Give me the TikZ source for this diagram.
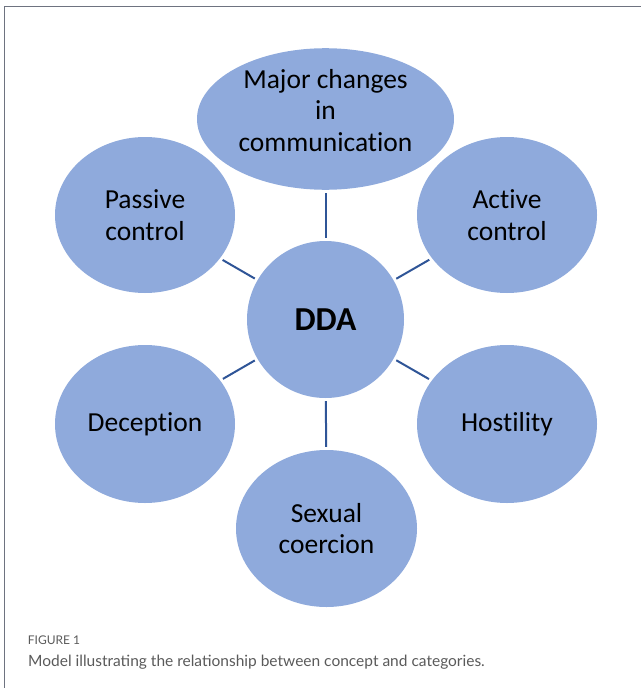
\documentclass[tikz,border=0pt]{standalone}
\usepackage{fontspec}
\setmainfont{Carlito}[Ligatures=NoCommon]
\newfontfamily\capfont{Lato}
\usetikzlibrary{shapes.geometric}
\definecolor{bubble}{HTML}{8FAADC}
\definecolor{link}{HTML}{2F5597}
\definecolor{framegray}{HTML}{6E7380}
\definecolor{captext}{HTML}{5A5A5A}
\tikzset{
  bubble/.style={ellipse, fill=bubble, inner sep=0pt, align=center,
    font=\fontsize{27.5}{31.5}\selectfont, text=black},
  link/.style={draw=link, line width=2pt, shorten >=3pt, shorten <=3pt},
}
\begin{document}
\begin{tikzpicture}[x=1pt,y=-1pt]
\useasboundingbox (0,0) rectangle (641,688);
\draw[framegray, line width=1.4pt] (4.5,688) -- (4.5,6.3) -- (641,6.3);

\node[bubble, minimum width=157pt, minimum height=157pt,
      font=\fontsize{33.5}{38}\selectfont\bfseries] (dda) at (325.5,319.5) {DDA};
\node[bubble, minimum width=257pt, minimum height=138pt, text depth=18pt] (major) at (325.5,119)
  {Major changes\\in\\communication};
\node[bubble, minimum width=180pt, minimum height=156pt] (passive) at (145,215) {Passive\\control};
\node[bubble, minimum width=180pt, minimum height=156pt] (active) at (507,215) {Active\\control};
\node[bubble, minimum width=180pt, minimum height=158pt] (deception) at (145,424) {Deception};
\node[bubble, minimum width=180pt, minimum height=158pt] (hostility) at (507,424) {Hostility};
\node[bubble, minimum width=181pt, minimum height=157pt] (coercion) at (326.5,528.5) {Sexual\\coercion};

\draw[link] (dda) -- (major);
\draw[link] (dda) -- (passive);
\draw[link] (dda) -- (active);
\draw[link] (dda) -- (deception);
\draw[link] (dda) -- (hostility);
\draw[link] (dda) -- (coercion);

\node[anchor=base west, inner sep=0pt, text=captext, font=\capfont\fontsize{12}{14}\selectfont] (fig) at (27.7,644.3) {FIGURE 1};
\node[anchor=base west, inner sep=0pt, text=captext, font=\capfont\fontsize{15.5}{18}\selectfont] (cap) at (28,666.7)
  {Model illustrating the relationship between concept and categories.};
\end{tikzpicture}
\end{document}
